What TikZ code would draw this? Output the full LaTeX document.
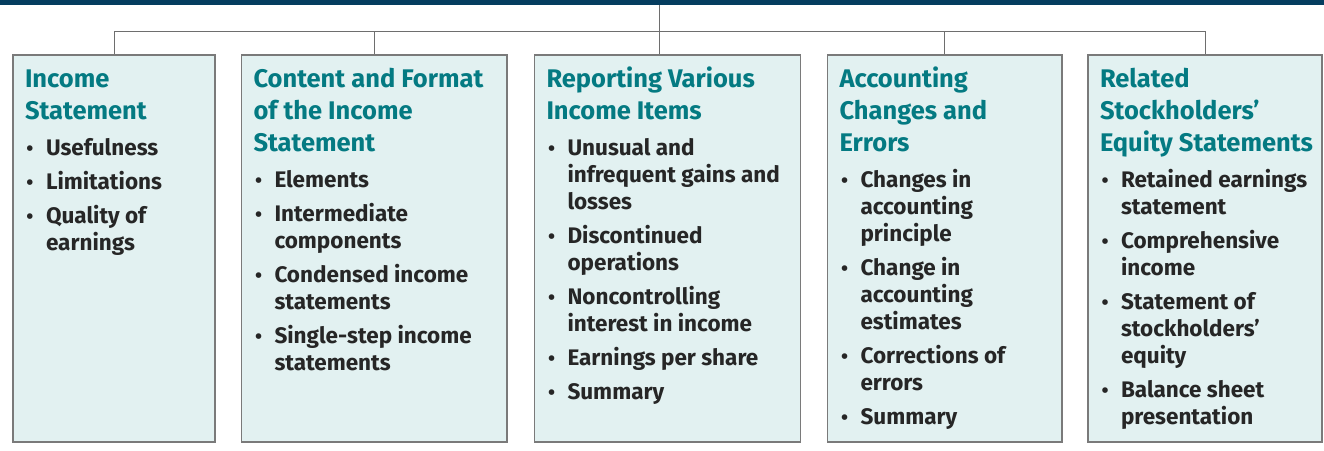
\documentclass[tikz,border=0pt]{standalone}
\usepackage{fontspec}
\setmainfont{Fira Sans}
\definecolor{navy}{HTML}{053D5F}
\definecolor{boxfill}{HTML}{E2F1F1}
\definecolor{boxline}{HTML}{7A7A7A}
\definecolor{connline}{HTML}{6E6E6E}
\definecolor{ttlcol}{HTML}{047A82}
\definecolor{bdycol}{HTML}{262626}
\newcommand{\ttlfont}{\fontsize{25.5}{32}\selectfont\bfseries\color{ttlcol}}
\newcommand{\bdyfont}{\fontsize{22.5}{27}\selectfont\bfseries\color{bdycol}}
\newcommand{\bitem}[1]{\par\hangindent=21pt\hangafter=1\noindent\makebox[21pt][l]{\hspace{1.5pt}\scalebox{0.9}{•}}#1\par\vskip7pt}
\newcommand{\boxcontent}[2]{\vtop{\hsize=300pt\parindent=0pt\rightskip=0pt plus 1fil\def\\{\hfil\break}\noindent\ttlfont #1\par\vskip9pt\bdyfont #2}}
\begin{document}
\begin{tikzpicture}[x=1pt,y=-1pt,
  topbar/.style={fill=navy,draw=none,inner sep=0pt,minimum width=1324pt,minimum height=4.8pt},
  cbox/.style={fill=boxfill,draw=boxline,line width=1.3pt,inner sep=0pt,minimum height=387pt},
  conn/.style={draw=connline,line width=1pt},
  btext/.style={anchor=base west,inner sep=0pt,outer sep=0pt}]
\useasboundingbox (0,0) rectangle (1324,450);
\node[topbar] (bar) at (662,2.4) {};
\node[cbox,minimum width=202pt] (b1) at (114,248.5) {};
\node[cbox,minimum width=265.5pt] (b2) at (374.25,248.5) {};
\node[cbox,minimum width=266pt] (b3) at (667.5,248.5) {};
\node[cbox,minimum width=234.5pt] (b4) at (944.75,248.5) {};
\node[cbox,minimum width=234pt] (b5) at (1205,248.5) {};
\coordinate (hub) at (659.3,31);
\coordinate (jl) at (b1.north |- hub);
\coordinate (jr) at (b5.north |- hub);
\draw[conn] (bar.south -| hub) -- (hub |- b3.north);
\draw[conn] (b1.north) -- (jl) -- (jr) -- (b5.north);
\draw[conn] (b2.north) -- (b2.north |- hub);
\draw[conn] (b4.north) -- (b4.north |- hub);
\node[btext] (t1) at (25,87) {\boxcontent{Income\\Statement}{%
  \bitem{Usefulness}\bitem{Limitations}\bitem{Quality of\\earnings}}};
\node[btext] (t2) at (253.5,87) {\boxcontent{Content and Format\\of the Income\\Statement}{%
  \bitem{Elements}\bitem{Intermediate\\components}\bitem{Condensed income\\statements}\bitem{Single-step income\\statements}}};
\node[btext] (t3) at (546.5,87) {\boxcontent{Reporting Various\\Income Items}{%
  \bitem{Unusual and\\infrequent gains and\\losses}\bitem{Discontinued\\operations}\bitem{Noncontrolling\\interest in income}\bitem{Earnings per share}\bitem{Summary}}};
\node[btext] (t4) at (839.5,87) {\boxcontent{Accounting\\Changes and\\Errors}{%
  \bitem{Changes in\\accounting\\principle}\bitem{Change in\\accounting\\estimates}\bitem{Corrections of\\errors}\bitem{Summary}}};
\node[btext] (t5) at (1100,87) {\boxcontent{Related\\Stockholders’\\Equity Statements}{%
  \bitem{Retained earnings\\statement}\bitem{Comprehensive\\income}\bitem{Statement of\\stockholders’\\equity}\bitem{Balance sheet\\presentation}}};
\end{tikzpicture}
\end{document}
